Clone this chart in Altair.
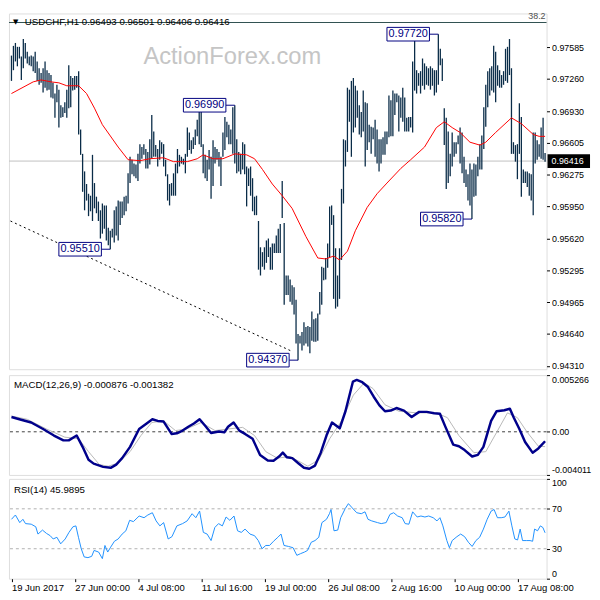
import altair as alt
import pandas as pd

FONT = "Liberation Sans"
W = 544
H_MAIN = 360
H_SUB = 101

BAR_COLOR = "#0a2c48"
NAVY = "#000080"

header_text = "USDCHF,H1  0.96493 0.96501 0.96406 0.96416"
watermark = "ActionForex.com"
fib_label = "38.2"
fib_level = 0.9784
current_price = 0.96416
current_label = "0.96416"

highs = [
    0.9750, 0.9760, 0.9763, 0.9759, 0.9759, 0.9749, 0.9767, 0.9763, 0.9754, 0.9749,
    0.9750, 0.9749, 0.9754, 0.9744, 0.9737, 0.9732, 0.9737, 0.9744, 0.9735, 0.9732,
    0.9730, 0.9722, 0.9711, 0.9720, 0.9715, 0.9699, 0.9697, 0.9702, 0.9715, 0.9740,
    0.9729, 0.9727, 0.9729, 0.9729, 0.9734, 0.9674, 0.9649, 0.9631, 0.9618, 0.9608,
    0.9606, 0.9648, 0.9619, 0.9605, 0.9600, 0.9591, 0.9598, 0.9596, 0.9596, 0.9573,
    0.9570, 0.9572, 0.9591, 0.9595, 0.9601, 0.9600, 0.9600, 0.9605, 0.9606, 0.9629,
    0.9646, 0.9643, 0.9639, 0.9638, 0.9649, 0.9659, 0.9656, 0.9659, 0.9654, 0.9651,
    0.9664, 0.9689, 0.9672, 0.9658, 0.9654, 0.9663, 0.9661, 0.9659, 0.9643, 0.9628,
    0.9618, 0.9619, 0.9629, 0.9639, 0.9654, 0.9648, 0.9646, 0.9644, 0.9649, 0.9676,
    0.9671, 0.9663, 0.9666, 0.9674, 0.9684, 0.9696, 0.9697, 0.9659, 0.9648, 0.9643,
    0.9653, 0.9646, 0.9663, 0.9656, 0.9654, 0.9651, 0.9646, 0.9671, 0.9687, 0.9682,
    0.9679, 0.9674, 0.9697, 0.9699, 0.9664, 0.9651, 0.9649, 0.9661, 0.9659, 0.9636,
    0.9634, 0.9636, 0.9624, 0.9605, 0.9606, 0.9580, 0.9553, 0.9548, 0.9553, 0.9560,
    0.9562, 0.9553, 0.9557, 0.9557, 0.9565, 0.9572, 0.9577, 0.9621, 0.9578, 0.9524,
    0.9524, 0.9520, 0.9514, 0.9512, 0.9499, 0.9464, 0.9462, 0.9466, 0.9476, 0.9471,
    0.9472, 0.9471, 0.9487, 0.9479, 0.9480, 0.9485, 0.9507, 0.9533, 0.9532, 0.9542,
    0.9557, 0.9595, 0.9596, 0.9586, 0.9552, 0.9524, 0.9552, 0.9613, 0.9664, 0.9663,
    0.9717, 0.9715, 0.9724, 0.9727, 0.9719, 0.9714, 0.9699, 0.9692, 0.9714, 0.9702,
    0.9701, 0.9679, 0.9677, 0.9676, 0.9684, 0.9674, 0.9664, 0.9664, 0.9666, 0.9672,
    0.9672, 0.9709, 0.9704, 0.9714, 0.9711, 0.9711, 0.9709, 0.9707, 0.9717, 0.9707,
    0.9686, 0.9687, 0.9687, 0.9744, 0.9765, 0.9735, 0.9732, 0.9734, 0.9747, 0.9742,
    0.9739, 0.9737, 0.9739, 0.9737, 0.9735, 0.9735, 0.9772, 0.9757, 0.9747, 0.9696,
    0.9686, 0.9672, 0.9649, 0.9671, 0.9661, 0.9661, 0.9668, 0.9676, 0.9671, 0.9646,
    0.9633, 0.9628, 0.9639, 0.9633, 0.9639, 0.9638, 0.9646, 0.9659, 0.9668, 0.9697,
    0.9720, 0.9734, 0.9737, 0.9739, 0.9760, 0.9754, 0.9740, 0.9735, 0.9730, 0.9734,
    0.9757, 0.9759, 0.9767, 0.9737, 0.9661, 0.9658, 0.9659, 0.9701, 0.9687, 0.9633,
    0.9631, 0.9631, 0.9629, 0.9628, 0.9671, 0.9671, 0.9663, 0.9659, 0.9676, 0.9686,
    0.9650,
]
lows = [
    0.9724, 0.9735, 0.9744, 0.9739, 0.9747, 0.9725, 0.9737, 0.9747, 0.9742, 0.9740,
    0.9739, 0.9734, 0.9732, 0.9724, 0.9720, 0.9722, 0.9712, 0.9717, 0.9714, 0.9715,
    0.9707, 0.9706, 0.9686, 0.9702, 0.9676, 0.9686, 0.9687, 0.9691, 0.9686, 0.9696,
    0.9697, 0.9714, 0.9715, 0.9717, 0.9669, 0.9648, 0.9610, 0.9591, 0.9601, 0.9585,
    0.9590, 0.9580, 0.9593, 0.9588, 0.9580, 0.9562, 0.9567, 0.9572, 0.9560, 0.9555,
    0.9551, 0.9563, 0.9558, 0.9565, 0.9560, 0.9576, 0.9583, 0.9586, 0.9590, 0.9598,
    0.9619, 0.9628, 0.9626, 0.9624, 0.9621, 0.9639, 0.9644, 0.9648, 0.9634, 0.9634,
    0.9638, 0.9644, 0.9646, 0.9646, 0.9636, 0.9643, 0.9649, 0.9636, 0.9626, 0.9601,
    0.9596, 0.9606, 0.9606, 0.9606, 0.9629, 0.9636, 0.9639, 0.9638, 0.9629, 0.9646,
    0.9653, 0.9649, 0.9654, 0.9658, 0.9667, 0.9659, 0.9656, 0.9629, 0.9624, 0.9621,
    0.9633, 0.9603, 0.9616, 0.9639, 0.9643, 0.9636, 0.9616, 0.9646, 0.9653, 0.9666,
    0.9659, 0.9659, 0.9649, 0.9639, 0.9629, 0.9631, 0.9628, 0.9633, 0.9628, 0.9595,
    0.9616, 0.9606, 0.9590, 0.9586, 0.9586, 0.9530, 0.9524, 0.9533, 0.9530, 0.9537,
    0.9543, 0.9530, 0.9530, 0.9547, 0.9547, 0.9547, 0.9547, 0.9583, 0.9494, 0.9504,
    0.9504, 0.9497, 0.9494, 0.9484, 0.9454, 0.9437, 0.9454, 0.9447, 0.9452, 0.9454,
    0.9451, 0.9444, 0.9457, 0.9456, 0.9456, 0.9457, 0.9484, 0.9494, 0.9519, 0.9520,
    0.9532, 0.9543, 0.9576, 0.9500, 0.9490, 0.9492, 0.9500, 0.9540, 0.9598, 0.9636,
    0.9651, 0.9682, 0.9646, 0.9671, 0.9676, 0.9686, 0.9669, 0.9666, 0.9672, 0.9636,
    0.9653, 0.9661, 0.9649, 0.9664, 0.9646, 0.9639, 0.9631, 0.9639, 0.9648, 0.9648,
    0.9659, 0.9666, 0.9667, 0.9667, 0.9689, 0.9702, 0.9672, 0.9686, 0.9682, 0.9672,
    0.9672, 0.9672, 0.9676, 0.9671, 0.9714, 0.9711, 0.9719, 0.9711, 0.9719, 0.9715,
    0.9720, 0.9719, 0.9715, 0.9719, 0.9709, 0.9712, 0.9720, 0.9740, 0.9724, 0.9658,
    0.9613, 0.9619, 0.9626, 0.9636, 0.9646, 0.9649, 0.9659, 0.9639, 0.9629, 0.9619,
    0.9615, 0.9601, 0.9596, 0.9582, 0.9605, 0.9606, 0.9626, 0.9633, 0.9633, 0.9654,
    0.9677, 0.9697, 0.9709, 0.9714, 0.9712, 0.9702, 0.9719, 0.9717, 0.9717, 0.9720,
    0.9724, 0.9722, 0.9730, 0.9649, 0.9649, 0.9641, 0.9623, 0.9649, 0.9605, 0.9619,
    0.9619, 0.9615, 0.9606, 0.9601, 0.9586, 0.9639, 0.9643, 0.9646, 0.9644, 0.9643,
    0.9641,
]

ma_bars = [1, 12, 16, 21, 25, 29, 35, 39, 43, 47, 55, 60, 66, 71, 78, 83, 90, 95, 98, 103,
           108, 114, 120, 124, 128, 133, 138, 143, 150, 156, 160, 164, 167, 171, 175, 181, 186, 191, 198, 203,
           210, 216, 220, 224, 228, 233, 238, 241, 246, 254, 259, 265, 268, 271]
ma_vals = [0.9711, 0.9723, 0.9725, 0.9723, 0.9722, 0.9719, 0.9719, 0.9711, 0.9696, 0.9679,
           0.9656, 0.9643, 0.9642, 0.9644, 0.9645, 0.9641, 0.9641, 0.9644, 0.9648, 0.9644,
           0.9644, 0.9649, 0.9648, 0.9644, 0.9633, 0.9618, 0.9606, 0.9593, 0.9564, 0.9542,
           0.9541, 0.9544, 0.9540, 0.9549, 0.9570, 0.9594, 0.9608, 0.9619, 0.9634, 0.9643,
           0.9656, 0.9676, 0.9682, 0.9676, 0.9671, 0.9661, 0.9658, 0.9661, 0.9671, 0.9686,
           0.9680, 0.9669, 0.9667, 0.9667]

trend_bars = [0.5, 143]
trend_vals = [0.9580, 0.9446]

swing_bars = [51, 114, 146, 217, 234]
swing_prices = [0.9551, 0.9699, 0.9437, 0.9772, 0.9582]
swing_texts = ["0.95510", "0.96990", "0.94370", "0.97720", "0.95820"]

price_ticks = [0.97585, 0.97260, 0.96930, 0.96605, 0.96275, 0.95950,
               0.95620, 0.95295, 0.94965, 0.94640, 0.94310]

macd_header = "MACD(12,26,9) -0.000876 -0.001382"
macd_bars = [1, 5, 11, 17, 22.5, 27.3, 30, 34, 37, 40, 42.6, 47.4, 51.2, 54, 57, 61, 65.6, 69.4, 72.3, 75,
             78, 82, 84.7, 87.6, 90.5, 93.3, 96.2, 99, 102, 106, 108.7, 110.6, 113.4, 116.3, 119.2, 123, 126.8, 130.7, 133.6, 136.4,
             138.3, 140.3, 143.1, 146, 149, 151.7, 154.6, 157.5, 160.4, 163.2, 167.1, 170, 173.8, 175.7, 178.5, 181.4, 184.3, 187.2, 190, 192.9,
             195.8, 199.6, 203.5, 207.3, 211.1, 214.9, 217.8, 220.7, 224.5, 227.4, 230.3, 234.1, 237, 239.8, 243.7, 246.5, 250.4, 253.2, 255.2, 258,
             260.9, 264.7, 267.6, 271]
macd_vals = [0.00137, 0.00116, 0.00086, 0.00026, -0.00035, -0.00080, -0.00080, -0.00035, -0.00140, -0.00260,
             -0.00296, -0.00326, -0.00335, -0.00305, -0.00245, -0.00140, 0.00026, 0.00077, 0.00116, 0.00101,
             0.00095, -0.00020, -0.00014, 0.00011, 0.00047, 0.00077, 0.00116, 0.00056, -0.00011, 0.00002,
             -0.00005, 0.00047, 0.00086, 0.00011, -0.00020, -0.00065, -0.00215, -0.00266, -0.00269, -0.00230,
             -0.00194, -0.00236, -0.00245, -0.00290, -0.00335, -0.00344, -0.00314, -0.00194, -0.00035, 0.00086,
             0.00032, 0.00191, 0.00467, 0.00482, 0.00461, 0.00416, 0.00326, 0.00245, 0.00191, 0.00197,
             0.00221, 0.00197, 0.00137, 0.00185, 0.00185, 0.00173, 0.00167, 0.00041, -0.00119, -0.00134,
             -0.00170, -0.00230, -0.00215, -0.00140, 0.00101, 0.00191, 0.00200, 0.00215, 0.00131, 0.00026,
             -0.00095, -0.00194, -0.00155, -0.00088]
signal_bars = [1, 9, 18.7, 28, 35, 40, 45.5, 50, 55, 61, 66.5, 72, 78, 84, 89.5, 97, 104, 110.6, 118, 124,
               129.7, 135.5, 142, 151, 156.5, 162, 168, 174, 179.5, 184, 190, 197, 206, 216, 221.6, 227.4,
               235, 241, 246.5, 252, 257, 262, 267.6, 271]
signal_vals = [0.00146, 0.00116, 0.00026, -0.00050, -0.00065, -0.00185, -0.00305, -0.00320, -0.00290, -0.00185,
               -0.00035, 0.00086, 0.00101, 0.00011, 0.00026, 0.00086, 0.00011, 0.00026, 0.00041, -0.00035,
               -0.00185, -0.00245, -0.00230, -0.00320, -0.00260, -0.00065, 0.00101, 0.00341, 0.00455, 0.00401,
               0.00251, 0.00191, 0.00176, 0.00176, 0.00131, -0.00035, -0.00194, -0.00185, -0.00005, 0.00176,
               0.00131, -0.00005, -0.00134, -0.00138]
macd_axis_vals = [-0.004011, 0.0, 0.005266]
macd_axis_labels = ["-0.004011", "0.00", "0.005266"]

rsi_header = "RSI(14) 45.9895"
rsi_bars = [1, 3, 5.2, 6.8, 8.1, 11, 13.3, 14.4, 16.7, 18.7, 20.6, 22.1, 24, 25.9, 28.2, 30.1, 32.1, 33.6, 34.9, 36.3,
            37.8, 39.7, 41.6, 42.8, 45.1, 47, 48.3, 49.7, 51.2, 53.1, 55, 57, 58.9, 60.8, 62.7, 65.6, 68.1, 70, 72.3, 74.2,
            76.1, 78, 80.3, 82.2, 84.7, 87.6, 89.9, 92.4, 94.3, 96.2, 98.1, 100, 102, 103.9, 105.8, 107.7, 109.6, 111.5, 113.6, 115.4,
            117.3, 119.2, 121.7, 124, 125.9, 127.8, 129.7, 131.6, 133.6, 135.8, 137.4, 138.9, 141.2, 143.5, 145.4, 147.3, 149.3, 150.8, 152.7, 154.6,
            156.5, 158.1, 160.4, 161.9, 162.7, 164.2, 166.1, 167.6, 169.9, 171.5, 173.4, 175.7, 178, 179.9, 181.4, 183.3, 186.2, 188.1, 190.6, 192.5,
            194.4, 196.4, 198.7, 200.2, 202.1, 204, 206.3, 208.2, 210.2, 212.1, 214.4, 216.3, 217.8, 219.3, 221.3, 222.6, 224, 226.4, 228.3, 230.3,
            232.2, 234.1, 236, 237.9, 239.8, 241.7, 243.7, 245.2, 246.9, 248.8, 250.7, 252.7, 254.2, 255.7, 257.1, 258.4, 259.6, 261.5, 263.4, 264.7,
            265.7, 267.2, 268.6, 269.9, 271]
rsi_vals = [59.5, 63.8, 56.2, 59.5, 55.2, 54.6, 52.0, 44.7, 48.7, 45.4, 43.1, 39.8, 41.5, 34.9, 39.8, 46.4, 52.0, 52.9, 41.5, 30.0,
            21.8, 21.1, 22.4, 28.3, 26.7, 20.1, 33.3, 26.7, 31.6, 37.5, 39.8, 44.7, 48.0, 58.5, 57.2, 62.8, 61.1, 63.8, 66.1, 57.9,
            52.9, 56.2, 39.8, 42.1, 52.9, 55.2, 57.9, 65.1, 61.1, 67.7, 46.4, 44.7, 38.2, 51.3, 55.2, 52.9, 61.8, 58.5, 62.8, 48.0,
            46.4, 49.7, 44.7, 43.1, 38.2, 30.0, 33.3, 33.3, 37.5, 41.5, 44.7, 33.3, 32.3, 31.0, 23.4, 25.1, 26.7, 28.3, 36.5, 38.2,
            41.5, 56.2, 59.5, 65.1, 69.3, 48.0, 48.7, 61.1, 70.3, 75.2, 71.0, 66.1, 65.1, 67.0, 59.5, 57.9, 56.2, 55.2, 56.2, 64.4,
            66.1, 62.8, 61.1, 55.2, 54.6, 67.0, 61.8, 62.8, 61.8, 62.8, 61.1, 57.9, 61.1, 52.9, 38.2, 31.0, 38.2, 42.1, 44.7, 42.1,
            36.5, 32.3, 38.2, 41.5, 49.7, 59.5, 67.7, 69.3, 61.1, 61.1, 61.8, 67.7, 52.9, 39.8, 38.8, 49.7, 38.2, 38.2, 38.2, 37.5,
            49.7, 48.0, 52.9, 51.3, 46.0]
rsi_axis_vals = [0, 30, 70, 100]
rsi_levels = [30, 70]

time_tick_bars = [1, 33, 65, 97, 129, 161, 193, 225, 257]
time_tick_labels = ["19 Jun 2017", "27 Jun 00:00", "4 Jul 08:00", "11 Jul 16:00", "19 Jul 00:00",
                    "26 Jul 08:00", "2 Aug 16:00", "10 Aug 00:00", "17 Aug 08:00"]


def label_expr(values, labels):
    expr = "''"
    for v, t in reversed(list(zip(values, labels))):
        expr = f"datum.value == {v} ? '{t}' : ({expr})"
    return expr


XS = alt.Scale(domain=[-0.25, 271.75], nice=False, zero=False)
YS_MAIN = alt.Scale(domain=[0.94277, 0.97933], nice=False, zero=False)
YS_MACD = alt.Scale(domain=[-0.004011, 0.005266], nice=False, zero=False)
YS_RSI = alt.Scale(domain=[0, 100], nice=False, zero=False)

axis_common = dict(orient="right", title=None, grid=False, domain=False, ticks=True, tickSize=3,
                   tickColor="black", labelPadding=2, labelFont=FONT, labelFontSize=9,
                   labelColor="black", labelOverlap=False)
main_axis = alt.Axis(values=price_ticks, format=".5f", labelFlush=False, **axis_common)
macd_axis = alt.Axis(values=macd_axis_vals, labelExpr=label_expr(macd_axis_vals, macd_axis_labels),
                     labelFlush=True, **axis_common)
rsi_axis = alt.Axis(values=rsi_axis_vals, format="d", labelFlush=True, **axis_common)
time_axis = alt.Axis(orient="bottom", values=time_tick_bars,
                     labelExpr=label_expr(time_tick_bars, time_tick_labels),
                     title=None, grid=False, domain=False, tickSize=3, tickColor="black",
                     labelPadding=1, labelFont=FONT, labelFontSize=9.6, labelColor="black",
                     labelAlign="left", labelFlush=False, labelOverlap=False)


def xq(field, axis=None):
    return alt.X(f"{field}:Q", scale=XS, axis=axis)


def ym(field):
    return alt.Y(f"{field}:Q", scale=YS_MAIN, axis=main_axis)


def ymacd(field):
    return alt.Y(f"{field}:Q", scale=YS_MACD, axis=macd_axis)


def yrsi(field):
    return alt.Y(f"{field}:Q", scale=YS_RSI, axis=rsi_axis)


def text_layer(text, x, y, size=9.8, color="black", align="left", font=FONT):
    return alt.Chart(pd.DataFrame({"t": [text]})).mark_text(
        align=align, baseline="middle", font=font, fontSize=size, color=color
    ).encode(x=alt.value(x), y=alt.value(y), text="t:N")


# ---------- main price panel ----------
bars_df = pd.DataFrame({"bar": list(range(1, len(highs) + 1)), "high": highs, "low": lows})
bars = alt.Chart(bars_df).mark_rule(color=BAR_COLOR, strokeWidth=1.3).encode(
    x=xq("bar"), y=ym("low"), y2="high:Q")

ma = alt.Chart(pd.DataFrame({"bar": ma_bars, "v": ma_vals})).mark_line(
    color="#ff0000", strokeWidth=1).encode(x=xq("bar"), y=ym("v"))

trend = alt.Chart(pd.DataFrame({"bar": trend_bars, "v": trend_vals})).mark_line(
    color="black", strokeWidth=1, strokeDash=[2, 3]).encode(x=xq("bar"), y=ym("v"))

cur_line = alt.Chart(pd.DataFrame({"p": [current_price]})).mark_rule(
    color="#c0c0c0", strokeWidth=1).encode(y=ym("p"))

fib_line = alt.Chart(pd.DataFrame({"p": [fib_level]})).mark_rule(
    color="#2f4f4f", strokeWidth=1).encode(y=ym("p"))

swing_base = alt.Chart(pd.DataFrame({"bar": swing_bars, "price": swing_prices, "label": swing_texts})
                       ).transform_calculate(
    bx1="datum.bar - 26", bx2="datum.bar - 4.5", tx="datum.bar - 15.25",
    by1="datum.price + 0.0007", by2="datum.price - 0.0007")
swing_box = swing_base.mark_rect(fill="white", stroke=NAVY, strokeWidth=1).encode(
    x=xq("bx1"), x2="bx2:Q", y=ym("by1"), y2="by2:Q")
swing_lead = swing_base.mark_rule(color=NAVY, strokeWidth=1).encode(
    x=xq("bx2"), x2="bar:Q", y=ym("price"))
swing_txt = swing_base.mark_text(font=FONT, fontSize=11, color=NAVY, baseline="middle").encode(
    x=xq("tx"), y=ym("price"), text="label:N")

cur_base = alt.Chart(pd.DataFrame({"p": [current_price], "label": [current_label]})).transform_calculate(
    t="datum.p + 0.0007", b="datum.p - 0.0007")
cur_box = cur_base.mark_rect(fill="black").encode(
    x=alt.value(W + 1), x2=alt.value(W + 44), y=ym("t"), y2="b:Q")
cur_txt = cur_base.mark_text(font=FONT, fontSize=9, color="white", align="left", baseline="middle").encode(
    x=alt.value(W + 5), y=ym("p"), text="label:N")

main = alt.layer(
    text_layer(watermark, 136, 44, size=24, color="#c5c5c5"),
    cur_line, fib_line, trend, bars, ma,
    swing_lead, swing_box, swing_txt,
    cur_box, cur_txt,
    text_layer("\u25bc", 4, 9, size=7, font="DejaVu Sans"),
    text_layer(header_text, 16, 9),
    text_layer(fib_label, W - 1, 3, size=9, color="#505050", align="right"),
).properties(width=W, height=H_MAIN)

# ---------- MACD panel ----------
zero_line = alt.Chart(pd.DataFrame({"z": [0.0]})).mark_rule(
    color="#404040", strokeWidth=1, strokeDash=[3, 3]).encode(y=ymacd("z"))
signal = alt.Chart(pd.DataFrame({"bar": signal_bars, "v": signal_vals})).mark_line(
    color="#b8b8b8", strokeWidth=1).encode(x=xq("bar"), y=ymacd("v"))
macd = alt.Chart(pd.DataFrame({"bar": macd_bars, "v": macd_vals})).mark_line(
    color="#00008b", strokeWidth=2.5, strokeJoin="round").encode(x=xq("bar"), y=ymacd("v"))
macd_panel = alt.layer(
    zero_line, signal, macd, text_layer(macd_header, 5, 10)
).properties(width=W, height=H_SUB)

# ---------- RSI panel ----------
levels = alt.Chart(pd.DataFrame({"l": rsi_levels})).mark_rule(
    color="#b0b0b0", strokeWidth=1, strokeDash=[3, 3]).encode(y=yrsi("l"))
rsi = alt.Chart(pd.DataFrame({"bar": rsi_bars, "v": rsi_vals})).mark_line(
    color="#1e90ff", strokeWidth=1).encode(x=xq("bar", time_axis), y=yrsi("v"))
rsi_panel = alt.layer(
    levels, rsi, text_layer(rsi_header, 5, 11)
).properties(width=W, height=H_SUB)

chart = alt.vconcat(main, macd_panel, rsi_panel, spacing=2).properties(
    padding=0, background="white"
).configure_view(stroke="black", strokeWidth=1).configure(font=FONT)

chart.save("out.html", embed_options={"renderer": "svg", "actions": False})
